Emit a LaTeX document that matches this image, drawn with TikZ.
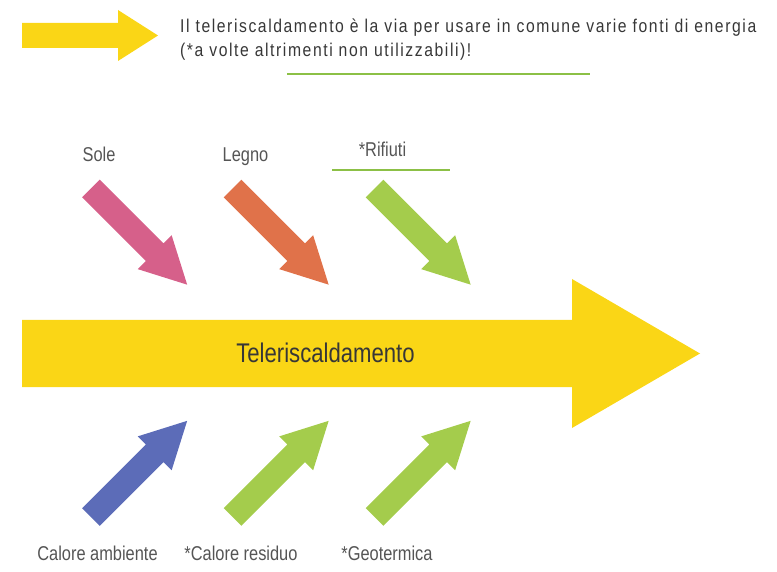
\documentclass[tikz,border=0pt]{standalone}
\usepackage{fontspec}
\setmainfont{Liberation Sans}[FakeStretch=0.82]
\newfontfamily\introfont{Liberation Sans}[FakeStretch=0.85,LetterSpace=8.5]

\definecolor{sunyellow}{RGB}{250,214,22}
\definecolor{solepink}{RGB}{214,96,138}
\definecolor{legnoorange}{RGB}{224,114,74}
\definecolor{leafgreen}{RGB}{164,204,76}
\definecolor{ambientblue}{RGB}{92,108,184}
\definecolor{rulegreen}{RGB}{140,192,70}
\definecolor{labelgray}{RGB}{85,85,85}
\definecolor{introgray}{RGB}{55,55,55}

\tikzset{
  source/.style={anchor=base, inner sep=0pt, text=labelgray, font=\fontsize{20}{22}\selectfont},
  intro/.style={anchor=base west, inner sep=0pt, text=introgray, font=\introfont\fontsize{18.5}{24}\selectfont},
  rule/.style={draw=rulegreen, line width=2pt},
  pics/fatarrow/.style={code={
    \fill (0,-12.4) -- (90,-12.4) -- (90,-24) -- (136,0) -- (90,24) -- (90,12.4) -- (0,12.4) -- cycle;
  }}
}

\begin{document}
\begin{tikzpicture}[x=1pt, y=-1pt]
            \useasboundingbox (0,0) rectangle (777,572);
            % header
            \fill[sunyellow] (22,23) -- (118,23) -- (118,10) -- (158,35.5) -- (118,61) -- (118,48) -- (22,48) -- cycle;
            \node[intro] (intro1) at (180,33) {Il teleriscaldamento è la via per usare in comune varie fonti di energia};
            \node[intro] (intro2) at (180,57) {(*a volte altrimenti non utilizzabili)!};
            \draw[rule] (287,74) -- (590,74);
            % main arrow
            \fill[sunyellow] (22,320) -- (572,320) -- (572,279) -- (700,353.5) -- (572,428) -- (572,387) -- (22,387) -- cycle;
            \node[anchor=base, inner sep=0pt, text=introgray, font=\fontsize{27}{30}\selectfont] (tele) at (325.5,362) {Teleriscaldamento};
            % sources above
            \node[source] (sole) at (99,162) {Sole};
            \node[source] (legno) at (245.5,162) {Legno};
            \node[source] (rifiuti) at (382.5,157) {*Rifiuti};
            \draw[rule] (332,170) -- (450,170);
            \pic[fill=solepink, rotate=-45] at (91,188.5) {fatarrow};
            \pic[fill=legnoorange, rotate=-45] at (232.5,188.5) {fatarrow};
            \pic[fill=leafgreen, rotate=-45] at (374.5,188.5) {fatarrow};
            % sources below
            \pic[fill=ambientblue, rotate=45] at (91,517) {fatarrow};
            \pic[fill=leafgreen, rotate=45] at (232.5,517) {fatarrow};
            \pic[fill=leafgreen, rotate=45] at (374.5,517) {fatarrow};
            \node[source] (ambiente) at (97.5,560) {Calore ambiente};
            \node[source] (residuo) at (241,560) {*Calore residuo};
            \node[source] (geo) at (387,560) {*Geotermica};
        \end{tikzpicture}
\end{document}
